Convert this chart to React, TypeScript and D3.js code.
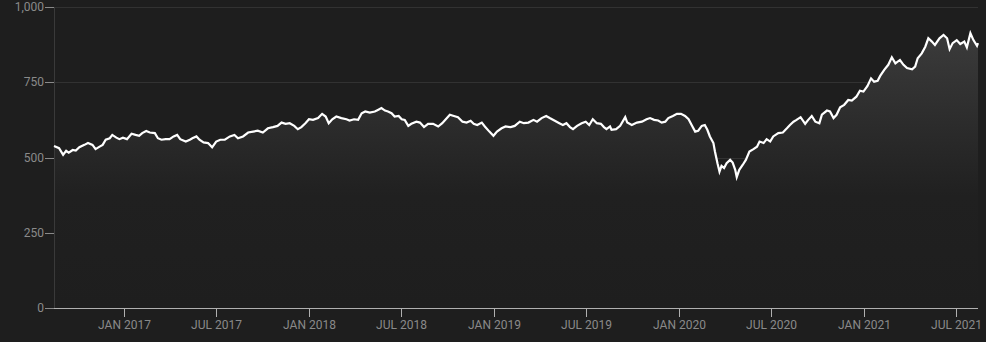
import React from "react";
import * as d3 from "d3";

const dates: string[] = [
  "2016-08-16","2016-08-26","2016-09-03","2016-09-09","2016-09-14","2016-09-22","2016-09-28","2016-10-05","2016-10-15","2016-10-22",
  "2016-10-31","2016-11-06","2016-11-14","2016-11-20","2016-11-26","2016-12-04","2016-12-09","2016-12-17","2016-12-23","2016-12-30",
  "2017-01-07","2017-01-16","2017-01-24","2017-01-31","2017-02-06","2017-02-14","2017-02-21","2017-03-03","2017-03-09","2017-03-16",
  "2017-03-24","2017-04-01","2017-04-09","2017-04-16","2017-04-22","2017-05-03","2017-05-11","2017-05-16","2017-05-24","2017-05-30",
  "2017-06-07","2017-06-16","2017-06-24","2017-07-02","2017-07-10","2017-07-19","2017-07-29","2017-08-07","2017-08-14","2017-08-24",
  "2017-09-03","2017-09-13","2017-09-22","2017-10-02","2017-10-12","2017-10-22","2017-10-31","2017-11-08","2017-11-16","2017-11-24",
  "2017-12-03","2017-12-10","2017-12-17","2017-12-25","2018-01-01","2018-01-09","2018-01-19","2018-01-27","2018-02-03","2018-02-09",
  "2018-02-16","2018-02-24","2018-03-06","2018-03-16","2018-03-22","2018-03-31","2018-04-08","2018-04-15","2018-04-22","2018-05-01",
  "2018-05-11","2018-05-17","2018-05-24","2018-05-31","2018-06-06","2018-06-13","2018-06-19","2018-06-27","2018-07-03","2018-07-09",
  "2018-07-16","2018-07-22","2018-08-01","2018-08-08","2018-08-16","2018-08-24","2018-09-03","2018-09-13","2018-09-21","2018-09-28",
  "2018-10-06","2018-10-14","2018-10-22","2018-10-31","2018-11-08","2018-11-16","2018-11-22","2018-11-29","2018-12-08","2018-12-14",
  "2018-12-23","2018-12-31","2019-01-07","2019-01-16","2019-01-24","2019-02-03","2019-02-11","2019-02-21","2019-03-01","2019-03-10",
  "2019-03-20","2019-03-27","2019-04-05","2019-04-14","2019-04-21","2019-05-01","2019-05-10","2019-05-17","2019-05-24","2019-05-31",
  "2019-06-06","2019-06-14","2019-06-23","2019-07-01","2019-07-08","2019-07-15","2019-07-23","2019-07-31","2019-08-06","2019-08-11",
  "2019-08-18","2019-08-21","2019-08-30","2019-09-07","2019-09-17","2019-09-21","2019-09-30","2019-10-10","2019-10-20","2019-10-29",
  "2019-11-05","2019-11-13","2019-11-21","2019-11-28","2019-12-05","2019-12-11","2019-12-20","2019-12-28","2020-01-05","2020-01-13",
  "2020-01-20","2020-01-26","2020-02-02","2020-02-08","2020-02-15","2020-02-21","2020-02-26","2020-03-02","2020-03-09","2020-03-12",
  "2020-03-17","2020-03-21","2020-03-25","2020-03-30","2020-04-04","2020-04-11","2020-04-16","2020-04-21","2020-04-24","2020-04-29",
  "2020-05-06","2020-05-12","2020-05-19","2020-05-27","2020-06-03","2020-06-08","2020-06-16","2020-06-22","2020-06-29","2020-07-05",
  "2020-07-15","2020-07-24","2020-08-01","2020-08-07","2020-08-14","2020-08-20","2020-08-28","2020-09-06","2020-09-12","2020-09-19",
  "2020-09-26","2020-10-04","2020-10-09","2020-10-19","2020-10-25","2020-11-01","2020-11-07","2020-11-14","2020-11-22","2020-11-30",
  "2020-12-07","2020-12-16","2020-12-23","2020-12-30","2021-01-07","2021-01-14","2021-01-20","2021-01-27","2021-02-01","2021-02-09",
  "2021-02-17","2021-02-24","2021-03-03","2021-03-12","2021-03-19","2021-03-26","2021-04-05","2021-04-11","2021-04-16","2021-04-24",
  "2021-05-01","2021-05-07","2021-05-14","2021-05-20","2021-05-29","2021-06-06","2021-06-13","2021-06-18","2021-06-24","2021-07-02",
  "2021-07-09","2021-07-17","2021-07-22","2021-07-29","2021-08-04","2021-08-11","2021-08-13"
];

const values: number[] = [
  538,531,509,522,516,525,523,534,542,548,
  542,528,536,542,559,564,575,566,561,566,
  561,579,575,572,581,588,583,581,564,559,
  561,561,570,575,561,553,559,564,570,559,
  550,548,534,553,559,559,570,575,564,570,
  583,586,589,583,597,601,605,616,612,614,
  605,594,601,614,627,625,631,645,636,614,
  627,636,631,627,623,627,625,647,653,649,
  653,658,664,656,653,647,636,638,627,625,
  605,612,619,616,601,612,612,603,614,627,
  642,638,634,619,616,622,612,608,616,603,
  586,572,586,597,603,601,605,619,614,616,
  625,619,631,638,631,622,614,608,614,601,
  594,605,614,619,608,627,614,612,601,594,
  603,592,594,605,634,616,608,616,619,627,
  631,625,623,616,619,631,638,645,645,638,
  627,608,586,589,605,608,592,570,548,520,
  481,453,472,465,481,492,483,459,435,459,
  476,492,520,528,536,553,548,561,553,570,
  581,583,597,608,619,625,634,612,625,638,
  619,614,642,656,653,631,642,667,675,691,
  689,702,722,719,738,763,752,755,771,791,
  808,833,813,824,808,797,793,802,830,846,
  868,896,885,874,896,907,896,860,880,890,
  877,885,866,913,890,871,880
];

const yTicks: number[] = [0, 250, 500, 750, 1000];
const xTickDates: string[] = ["2017-01-01","2017-07-01","2018-01-01","2018-07-01","2019-01-01","2019-07-01","2020-01-01","2020-07-01","2021-01-01","2021-07-01"];

const W = 986, H = 342;
const M = { left: 54, right: 8, top: 7, bottom: 34 };

export default function App() {
  const parse = d3.timeParse("%Y-%m-%d");
  const data = dates.map((d, i) => ({ date: parse(d) as Date, value: values[i] }));
  const x = d3.scaleTime()
    .domain(d3.extent(data, d => d.date) as [Date, Date])
    .range([M.left, W - M.right]);
  const y = d3.scaleLinear().domain([0, 1000]).range([H - M.bottom, M.top]);
  const line = d3.line<{ date: Date; value: number }>().x(d => x(d.date)).y(d => y(d.value));
  const area = d3.area<{ date: Date; value: number }>().x(d => x(d.date)).y0(y(0)).y1(d => y(d.value));
  const fmtX = d3.timeFormat("%b %Y");
  const fmtY = d3.format(",");
  const font = "Roboto, 'Liberation Sans', Arial, sans-serif";

  return (
    <div style={{ position: "absolute", left: 0, top: 0, width: W, height: H, background: "#1e1e1e" }}>
      <svg width={W} height={H} style={{ display: "block" }}>
        <defs>
          <linearGradient id="areaGrad" gradientUnits="userSpaceOnUse" x1="0" y1={y(930)} x2="0" y2={y(0)}>
            <stop offset="0" stopColor="#3c3c3c" />
            <stop offset="0.36" stopColor="#2b2b2b" />
            <stop offset="0.6" stopColor="#202020" />
            <stop offset="1" stopColor="#1e1e1e" />
          </linearGradient>
        </defs>
        <rect x={0} y={0} width={W} height={H} fill="#1e1e1e" />
        {yTicks.filter(t => t > 0).map(t => (
          <line key={"g" + t} x1={M.left} x2={W - M.right} y1={Math.round(y(t)) + 0.5} y2={Math.round(y(t)) + 0.5} stroke="#323232" strokeWidth={1} />
        ))}
        <path d={area(data) || ""} fill="url(#areaGrad)" />
        <line x1={M.left + 0.5} x2={M.left + 0.5} y1={M.top} y2={y(0)} stroke="#3a3a3a" strokeWidth={1} />
        {yTicks.map(t => (
          <g key={"y" + t}>
            <line x1={M.left - 9} x2={M.left} y1={Math.round(y(t)) + 0.5} y2={Math.round(y(t)) + 0.5} stroke="#8a8a8a" strokeWidth={1} />
            <text x={M.left - 10} y={y(t)} dy="0.35em" textAnchor="end" fill="#8a8a8a" fontSize={12} fontFamily={font}>{fmtY(t)}</text>
          </g>
        ))}
        <path d={line(data) || ""} fill="none" stroke="#ffffff" strokeWidth={2.2} strokeLinejoin="miter" />
        <line x1={M.left} x2={W - M.right} y1={Math.round(y(0)) + 0.5} y2={Math.round(y(0)) + 0.5} stroke="#b0b0b0" strokeWidth={1} />
        {xTickDates.map(s => {
          const d = parse(s) as Date;
          const px = Math.round(x(d)) + 0.5;
          return (
            <g key={s}>
              <line x1={px} x2={px} y1={y(0)} y2={y(0) + 9} stroke="#b0b0b0" strokeWidth={1} />
              <text x={px} y={y(0) + 21} textAnchor="middle" fill="#8a8a8a" fontSize={12} fontFamily={font}>{fmtX(d).toUpperCase()}</text>
            </g>
          );
        })}
      </svg>
    </div>
  );
}
